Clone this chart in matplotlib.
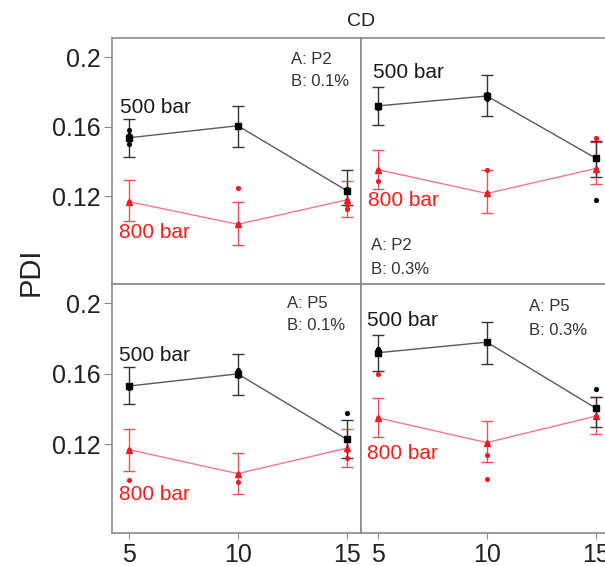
import matplotlib
matplotlib.use("Agg")
import matplotlib.pyplot as plt

plt.rcParams["font.family"] = ["Liberation Sans", "DejaVu Sans"]

x_levels = [5, 10, 15]
y_ticks = [0.12, 0.16, 0.2]
y_tick_labels = ["0.12", "0.16", "0.2"]

panel_a = ["A: P2", "A: P2", "A: P5", "A: P5"]
panel_b = ["B: 0.1%", "B: 0.3%", "B: 0.1%", "B: 0.3%"]

# means and error bar ends, 500 bar
mean_500 = [
    [0.1537, 0.1606, 0.1234],
    [0.1720, 0.1777, 0.1420],
    [0.1531, 0.1600, 0.1229],
    [0.1720, 0.1780, 0.1406],
]
lo_500 = [
    [0.1429, 0.1486, 0.1150],
    [0.1610, 0.1663, 0.1310],
    [0.1429, 0.1480, 0.1120],
    [0.1617, 0.1657, 0.1297],
]
hi_500 = [
    [0.1646, 0.1720, 0.1349],
    [0.1829, 0.1900, 0.1520],
    [0.1640, 0.1714, 0.1340],
    [0.1823, 0.1897, 0.1470],
]

# means and error bar ends, 800 bar
mean_800 = [
    [0.1170, 0.1040, 0.1180],
    [0.1354, 0.1217, 0.1360],
    [0.1170, 0.1034, 0.1178],
    [0.1350, 0.1210, 0.1360],
]
lo_800 = [
    [0.1057, 0.0920, 0.1080],
    [0.1240, 0.1103, 0.1270],
    [0.1050, 0.0920, 0.1074],
    [0.1240, 0.1100, 0.1257],
]
hi_800 = [
    [0.1297, 0.1166, 0.1290],
    [0.1467, 0.1350, 0.1510],
    [0.1286, 0.1150, 0.1290],
    [0.1463, 0.1330, 0.1470],
]

# individual observations (x, y)
obs_500_x = [
    [5, 5, 5, 10, 10, 15, 15],
    [5, 5, 10, 10, 15, 15],
    [5, 5, 10, 10, 15, 15],
    [5, 5, 10, 15, 15],
]
obs_500_y = [
    [0.158, 0.155, 0.150, 0.161, 0.160, 0.124, 0.123],
    [0.172, 0.171, 0.179, 0.176, 0.142, 0.1177],
    [0.153, 0.152, 0.162, 0.159, 0.1377, 0.1229],
    [0.174, 0.171, 0.178, 0.1514, 0.1406],
]
obs_800_x = [
    [5, 10, 10, 15, 15, 15],
    [5, 5, 10, 10, 15, 15, 15],
    [5, 5, 10, 10, 15, 15],
    [5, 5, 10, 10, 10, 15],
]
obs_800_y = [
    [0.117, 0.1246, 0.104, 0.118, 0.115, 0.113],
    [0.1354, 0.1286, 0.1354, 0.1217, 0.1537, 0.1349, 0.136],
    [0.117, 0.100, 0.1034, 0.0989, 0.117, 0.112],
    [0.135, 0.160, 0.121, 0.114, 0.1006, 0.136],
]

# label placement (data coords)
lab500_xy = [(4.59, 0.1709), (4.77, 0.1909), (4.54, 0.1703), (4.50, 0.1903)]
lab800_xy = [(4.54, 0.0994), (4.55, 0.1177), (4.54, 0.0914), (4.50, 0.1149)]
a_xy = [(12.43, 0.1989), (4.68, 0.0920), (12.25, 0.2000), (11.93, 0.1983)]
b_xy = [(12.43, 0.1863), (4.68, 0.0783), (12.25, 0.1874), (11.93, 0.1846)]

black_line = "#5a5a5a"
red_line = "#f07a8a"
red = "#ee1c25"
spine_col = "#8a8a8a"

fig = plt.figure(figsize=(6.05, 5.66), dpi=100)
W, H = 605, 566
boxes = [
    (112, 38, 249, 246), (361, 38, 249, 246),
    (112, 284, 249, 249), (361, 284, 249, 249),
]
axes = []
for (l, t, w, h) in boxes:
    ax = fig.add_axes([l / W, 1 - (t + h) / H, w / W, h / H])
    axes.append(ax)

for i, ax in enumerate(axes):
    e5lo = [m - lo for m, lo in zip(mean_500[i], lo_500[i])]
    e5hi = [hi - m for m, hi in zip(mean_500[i], hi_500[i])]
    e8lo = [m - lo for m, lo in zip(mean_800[i], lo_800[i])]
    e8hi = [hi - m for m, hi in zip(mean_800[i], hi_800[i])]

    ax.errorbar(x_levels, mean_800[i], yerr=[e8lo, e8hi], color=red_line,
                ecolor="#f0505a", elinewidth=1, capsize=4.5, capthick=1,
                lw=1, marker="^", ms=4, mfc=red, mec=red, zorder=2)
    ax.errorbar(x_levels, mean_500[i], yerr=[e5lo, e5hi], color=black_line,
                ecolor="#333333", elinewidth=1, capsize=4.5, capthick=1,
                lw=1, marker="s", ms=5, mfc="black", mec="black", zorder=3)
    ax.scatter(obs_800_x[i], obs_800_y[i], s=14, color=red, zorder=4, lw=0)
    ax.scatter(obs_500_x[i], obs_500_y[i], s=14, color="black", zorder=5, lw=0)

    ax.text(*lab500_xy[i], "500 bar", fontsize=15, color="#1a1a1a", va="center")
    ax.text(*lab800_xy[i], "800 bar", fontsize=15, color="#ff1a1a", va="center")
    ax.text(*a_xy[i], panel_a[i], fontsize=12, color="#333333", va="center")
    ax.text(*b_xy[i], panel_b[i], fontsize=12, color="#333333", va="center")

    ax.set_xlim(4.22, 15.66)
    ax.set_ylim(0.0697, 0.211)
    for s in ax.spines.values():
        s.set_color(spine_col)
        s.set_linewidth(1.2)

    if i in (0, 2):
        ax.set_yticks(y_ticks)
        ax.set_yticklabels(y_tick_labels, fontsize=18, color="#222222")
        ax.tick_params(axis="y", length=6, color=spine_col, pad=2)
    else:
        ax.set_yticks([])
    if i in (2, 3):
        ax.set_xticks(x_levels)
        ax.set_xticklabels([str(v) for v in x_levels], fontsize=18, color="#222222")
        ax.tick_params(axis="x", length=4, color=spine_col, pad=3)
    else:
        ax.set_xticks([])

fig.text(0.05, 1 - 272 / H, "PDI", rotation=90, fontsize=21, va="center",
         ha="center", color="#222222")
fig.text(361 / W, 1 - 22 / H, "CD", fontsize=14, ha="center", va="center",
         color="#222222")

fig.savefig("out.png", dpi=100)
